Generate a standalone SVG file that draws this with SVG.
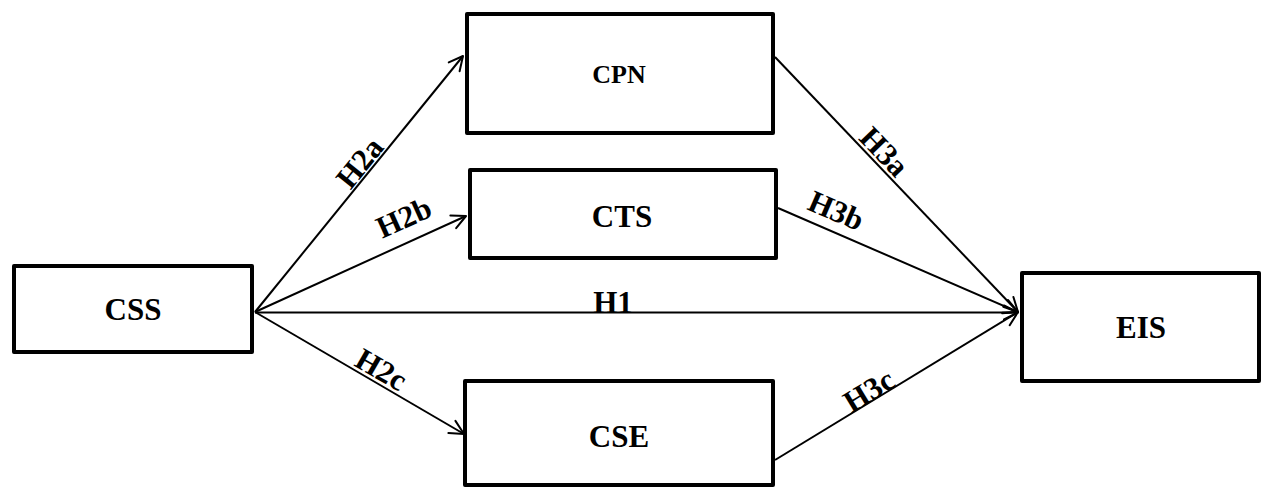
<svg xmlns="http://www.w3.org/2000/svg" width="1261" height="488" viewBox="0 0 1261 488">
<style>
.box{fill:#fff;stroke:#000;stroke-width:4;stroke-linejoin:round}
text{font-family:'Liberation Serif','Times New Roman',serif;font-weight:bold;fill:#000;text-anchor:middle}
.lb{font-size:31px}
.ed{stroke:#000;stroke-width:2;fill:none;marker-end:url(#ah)}
</style>
<defs>
<marker id="ah" markerUnits="userSpaceOnUse" markerWidth="20" markerHeight="20" refX="0" refY="0" viewBox="-16 -10 18 20" orient="auto">
<path d="M-14,-7 L0,0 L-14,7" fill="none" stroke="#000" stroke-width="2" stroke-linecap="round" stroke-linejoin="round"/>
</marker>
</defs>
<g id="connectors">
<line class="ed" x1="255" y1="312" x2="463" y2="56"/>
<line class="ed" x1="255" y1="312" x2="466" y2="216"/>
<line class="ed" x1="255" y1="312.5" x2="1018" y2="312.5"/>
<line class="ed" x1="255" y1="312" x2="464" y2="434"/>
<line class="ed" x1="775" y1="57" x2="1018" y2="312"/>
<line class="ed" x1="778" y1="208" x2="1018" y2="312"/>
<line class="ed" x1="775" y1="460" x2="1018" y2="312"/>
<text class="lb" transform="rotate(-51 360 163)" x="360" y="173">H2a</text>
<text class="lb" transform="rotate(-24.3 404 218)" x="404" y="228">H2b</text>
<text class="lb" x="613" y="313">H1</text>
<text class="lb" transform="rotate(30 381 370)" x="381" y="380">H2c</text>
<text class="lb" transform="rotate(46.4 884 152)" x="884" y="162">H3a</text>
<text class="lb" transform="rotate(23.4 836 211)" x="836" y="221">H3b</text>
<text class="lb" transform="rotate(-31.3 869 391)" x="869" y="401">H3c</text>
</g>
<g id="CSS">
<rect class="box" x="14" y="266" width="238" height="86"/>
<text x="133" y="320" font-size="31">CSS</text>
</g>
<g id="CPN">
<rect class="box" x="467" y="14" width="306" height="119"/>
<text x="619" y="83" font-size="26">CPN</text>
</g>
<g id="CTS">
<rect class="box" x="470" y="170" width="306" height="88"/>
<text x="622" y="227" font-size="31">CTS</text>
</g>
<g id="CSE">
<rect class="box" x="465" y="381" width="308" height="104"/>
<text x="619" y="447" font-size="31">CSE</text>
</g>
<g id="EIS">
<rect class="box" x="1022" y="273" width="237" height="108"/>
<text x="1141" y="338" font-size="31">EIS</text>
</g>
</svg>
